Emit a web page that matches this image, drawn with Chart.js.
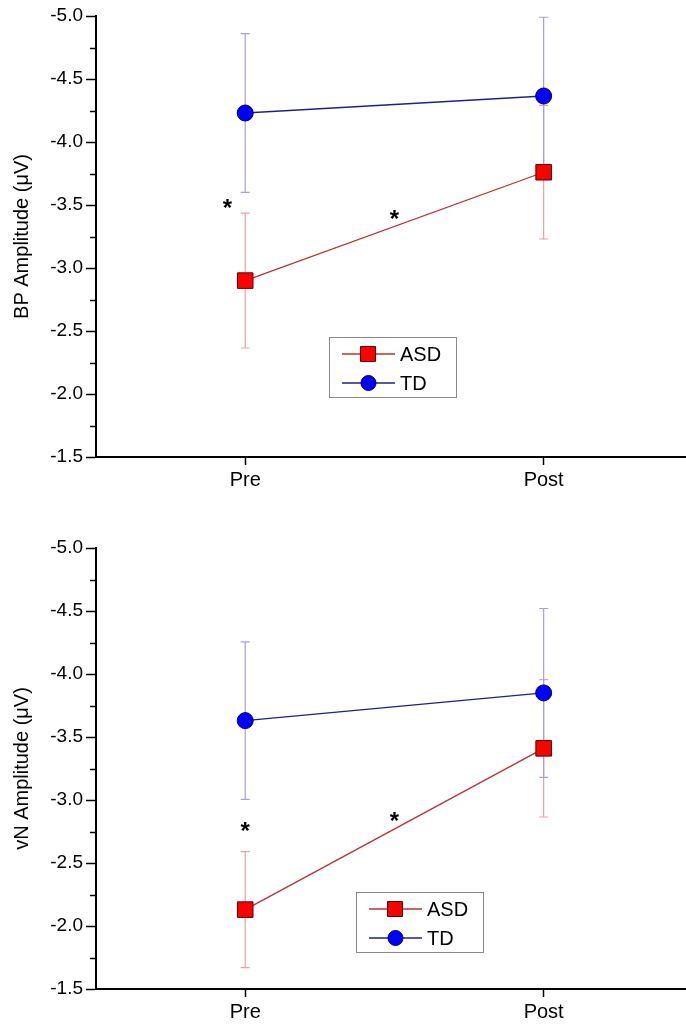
<!DOCTYPE html>
<html>
<head>
<meta charset="utf-8">
<script src="https://cdn.jsdelivr.net/npm/chart.js@4.4.0/dist/chart.umd.min.js"></script>
<style>
  html, body { margin: 0; padding: 0; background: #fff; overflow: hidden; }
  #wrap { position: relative; width: 686px; height: 1027px; }
  canvas { position: absolute; left: 0; }
  #bpChart { top: 0; }
  #vnChart { top: 532px; }
</style>
</head>
<body>
<div id="wrap">
  <canvas id="bpChart" width="686" height="500"></canvas>
  <canvas id="vnChart" width="686" height="495"></canvas>
</div>
<script>
// categories (x positions 0 and 1)
const phases = ['Pre', 'Post'];
const yTicks = [-5.0, -4.5, -4.0, -3.5, -3.0, -2.5, -2.0, -1.5];

// BP amplitude (uV), mean and error
const bpASD = [-2.90, -3.76];
const bpASDErr = [0.535, 0.53];
const bpTD = [-4.23, -4.365];
const bpTDErr = [0.63, 0.625];
// significance stars [x, y]
const bpStars = [[-0.06, -3.52], [0.5, -3.44]];

// vN amplitude (uV)
const vnASD = [-2.13, -3.41];
const vnASDErr = [0.46, 0.545];
const vnTD = [-3.63, -3.85];
const vnTDErr = [0.625, 0.67];
const vnStars = [[0.0, -2.80], [0.5, -2.88]];

const FONT = "'Liberation Sans', Arial, sans-serif";

const asdStyle = { fill: '#ff0000', edge: '#5a0000', line: '#b83232', err: '#e3a3a3' };
const tdStyle = { fill: '#0000ff', edge: '#00007a', line: '#20208c', err: '#a3a3d8' };

// error bars, stars, minor ticks, legend
const extras = {
  id: 'extras',
  beforeDatasetsDraw(chart) {
    const ctx = chart.ctx;
    const xs = chart.scales.x, ys = chart.scales.y;
    chart.options.plugins.extras.errors.forEach((errs, di) => {
      const st = di === 0 ? asdStyle : tdStyle;
      const vals = chart.data.datasets[di].data;
      ctx.save();
      ctx.strokeStyle = st.err;
      ctx.lineWidth = 1.2;
      vals.forEach((p, i) => {
        const px = xs.getPixelForValue(p.x);
        const top = ys.getPixelForValue(p.y - errs[i]);
        const bot = ys.getPixelForValue(p.y + errs[i]);
        ctx.beginPath();
        ctx.moveTo(px, top); ctx.lineTo(px, bot);
        ctx.moveTo(px - 4.5, top); ctx.lineTo(px + 4.5, top);
        ctx.moveTo(px - 4.5, bot); ctx.lineTo(px + 4.5, bot);
        ctx.stroke();
      });
      ctx.restore();
    });
  },
  afterDraw(chart) {
    const ctx = chart.ctx;
    const xs = chart.scales.x, ys = chart.scales.y;
    const o = chart.options.plugins.extras;
    ctx.save();
    // minor ticks
    ctx.strokeStyle = '#000';
    ctx.lineWidth = 1.5;
    for (let i = 0; i < yTicks.length - 1; i++) {
      const py = Math.round(ys.getPixelForValue((yTicks[i] + yTicks[i + 1]) / 2)) + 0.5;
      ctx.beginPath();
      ctx.moveTo(ys.right - 6, py); ctx.lineTo(ys.right, py);
      ctx.stroke();
    }
    // stars
    ctx.fillStyle = '#000';
    ctx.font = 'bold 24px ' + FONT;
    ctx.textAlign = 'center';
    ctx.textBaseline = 'alphabetic';
    o.stars.forEach(s => {
      ctx.fillText('*', xs.getPixelForValue(s[0]), ys.getPixelForValue(s[1]) + 14);
    });
    // legend
    const lx = o.legendAt[0], ly = o.legendAt[1];
    ctx.fillStyle = '#fff';
    ctx.fillRect(lx, ly, 127, 60);
    ctx.strokeStyle = '#8a8a8a';
    ctx.lineWidth = 1;
    ctx.strokeRect(lx + 0.5, ly + 0.5, 127, 60);
    const rows = [['ASD', asdStyle, 'rect', 17], ['TD', tdStyle, 'circle', 46]];
    rows.forEach(r => {
      const st = r[1], cy = ly + r[3];
      ctx.strokeStyle = st.line;
      ctx.lineWidth = 1.3;
      ctx.beginPath();
      ctx.moveTo(lx + 13, cy); ctx.lineTo(lx + 66, cy);
      ctx.stroke();
      ctx.fillStyle = st.fill;
      ctx.strokeStyle = st.edge;
      ctx.lineWidth = 1;
      ctx.beginPath();
      if (r[2] === 'rect') ctx.rect(lx + 31.5, cy - 7.5, 15, 15);
      else ctx.arc(lx + 39.5, cy, 7.5, 0, Math.PI * 2);
      ctx.fill(); ctx.stroke();
      ctx.fillStyle = '#000';
      ctx.font = '20px ' + FONT;
      ctx.textAlign = 'left';
      ctx.textBaseline = 'middle';
      ctx.fillText(r[0], lx + 71, cy + 1);
    });
    ctx.restore();
  }
};

function makeChart(id, title, asd, asdErr, td, tdErr, stars, canvasH, legendAt) {
  const toPts = arr => arr.map((v, i) => ({ x: i, y: v }));
  return new Chart(document.getElementById(id), {
    type: 'line',
    data: {
      datasets: [
        {
          label: 'ASD', data: toPts(asd),
          borderColor: asdStyle.line, borderWidth: 1.3,
          pointStyle: 'rect', pointRadius: 11, pointBackgroundColor: asdStyle.fill,
          pointBorderColor: asdStyle.edge, pointBorderWidth: 1
        },
        {
          label: 'TD', data: toPts(td),
          borderColor: tdStyle.line, borderWidth: 1.3,
          pointStyle: 'circle', pointRadius: 8, pointBackgroundColor: tdStyle.fill,
          pointBorderColor: tdStyle.edge, pointBorderWidth: 1
        }
      ]
    },
    options: {
      responsive: false,
      animation: false,
      events: [],
      layout: { autoPadding: false, padding: { top: 16, right: 0, left: 0, bottom: 0 } },
      plugins: {
        legend: { display: false },
        tooltip: { enabled: false },
        extras: { errors: [asdErr, tdErr], stars: stars, legendAt: legendAt }
      },
      scales: {
        x: {
          type: 'linear', min: -0.5, max: 1.477,
          afterBuildTicks: s => { s.ticks = phases.map((p, i) => ({ value: i })); },
          afterFit: s => { s.height = canvasH - 457; },
          border: { color: '#000', width: 2 },
          grid: { drawOnChartArea: false, color: '#000', tickLength: 8, tickWidth: 1.5 },
          ticks: {
            color: '#000', font: { family: FONT, size: 20 }, padding: 3,
            callback: v => phases[v]
          }
        },
        y: {
          reverse: true, min: -5, max: -1.5,
          afterBuildTicks: s => { s.ticks = yTicks.map(v => ({ value: v })); },
          afterFit: s => { s.width = 96; },
          border: { color: '#000', width: 2 },
          grid: { drawOnChartArea: false, color: '#000', tickLength: 10, tickWidth: 1.5 },
          ticks: {
            color: '#000', font: { family: FONT, size: 19 }, padding: 3,
            callback: v => v.toFixed(1)
          },
          title: {
            display: true, text: title, color: '#000',
            font: { family: FONT, size: 20 }, padding: { top: 10, bottom: 0 }
          }
        }
      }
    },
    plugins: [extras]
  });
}

makeChart('bpChart', 'BP Amplitude (\u03bcV)', bpASD, bpASDErr, bpTD, bpTDErr, bpStars, 500, [329, 337]);
makeChart('vnChart', 'vN Amplitude (\u03bcV)', vnASD, vnASDErr, vnTD, vnTDErr, vnStars, 495, [356, 360]);
</script>
</body>
</html>
